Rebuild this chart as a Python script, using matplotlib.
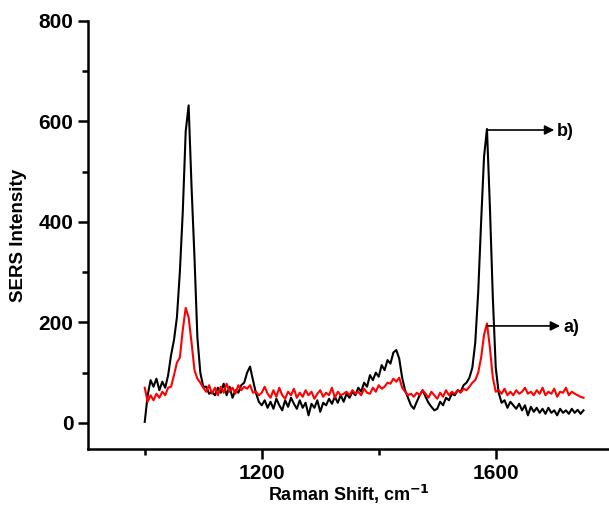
import numpy as np
import matplotlib.pyplot as plt
from matplotlib.ticker import MultipleLocator, FixedLocator

plt.rcParams['font.family'] = ['Liberation Sans', 'DejaVu Sans']

# Raman shift axis (cm-1), 5 cm-1 steps
shift = np.arange(1000, 1751, 5)

# b) black spectrum
black = [2, 55, 85, 72, 88, 65, 82, 70, 95, 135,
         165, 210, 300, 420, 580, 632, 470, 330, 170, 100,
         72, 72, 58, 62, 55, 70, 60, 78, 55, 72,
         50, 65, 60, 75, 80, 100, 112, 85, 60, 42,
         35, 45, 30, 42, 28, 48, 35, 25, 45, 32,
         50, 38, 28, 45, 30, 40, 15, 38, 30, 45,
         22, 40, 35, 48, 38, 52, 40, 55, 42, 58,
         50, 62, 55, 70, 62, 80, 72, 95, 85, 100,
         92, 115, 105, 125, 118, 140, 145, 128, 90, 65,
         50, 35, 28, 42, 55, 65, 52, 40, 32, 25,
         28, 42, 35, 50, 45, 58, 55, 65, 62, 75,
         80, 90, 110, 160, 260, 400, 530, 585, 430, 250,
         110, 60, 40, 45, 30, 42, 35, 28, 38, 25,
         35, 15, 32, 22, 30, 20, 28, 18, 30, 20,
         25, 15, 28, 20, 25, 18, 28, 20, 26, 18,
         25]

# a) red spectrum
red = [70, 42, 55, 45, 58, 50, 62, 55, 70, 72,
       95, 120, 130, 185, 229, 210, 160, 105, 88, 80,
       70, 62, 75, 58, 70, 55, 72, 60, 78, 62,
       70, 58, 75, 65, 72, 68, 75, 60, 62, 55,
       60, 72, 58, 50, 65, 52, 70, 55, 48, 62,
       55, 68, 50, 60, 52, 65, 55, 62, 48, 58,
       65, 52, 60, 55, 70, 50, 62, 55, 58, 62,
       55, 65, 58, 62, 55, 68, 60, 58, 70, 62,
       75, 68, 72, 80, 78, 88, 82, 90, 70, 62,
       55, 58, 52, 60, 55, 65, 58, 50, 62, 55,
       48, 60, 52, 65, 55, 62, 58, 65, 60, 68,
       65, 72, 80, 85, 100, 130, 175, 198, 150, 90,
       62, 65, 58, 68, 55, 62, 55, 65, 58, 62,
       70, 58, 62, 55, 65, 58, 70, 55, 62, 58,
       68, 52, 62, 60, 70, 55, 62, 58, 55, 52,
       50]

fig = plt.figure(figsize=(6.09, 5.08), dpi=100)
ax = fig.add_axes([88 / 609, 59 / 508, 521 / 609, 428 / 508])

ax.plot(shift, black, color='black', lw=1.5)
ax.plot(shift, red, color='red', lw=1.5)

ax.set_xlim(903, 903 + 521 / 0.585)
ax.set_ylim(-52, 800)

# labels with arrows
arrow = dict(arrowstyle='-|>', color='black', lw=1.2, shrinkA=0, shrinkB=0,
             mutation_scale=14)
ax.annotate('', xy=(1700, 583), xytext=(1585, 583), arrowprops=arrow)
ax.text(1705, 580, 'b)', fontsize=13, fontweight='bold', va='center')
ax.annotate('', xy=(1710, 193), xytext=(1585, 193), arrowprops=arrow)
ax.text(1715, 190, 'a)', fontsize=13, fontweight='bold', va='center')

for s in ['top', 'right']:
    ax.spines[s].set_visible(False)
for s in ['left', 'bottom']:
    ax.spines[s].set_linewidth(1.8)

ax.xaxis.set_major_locator(FixedLocator([1200, 1600]))
ax.xaxis.set_minor_locator(FixedLocator([1000, 1400, 1800]))
ax.yaxis.set_major_locator(MultipleLocator(200))
ax.yaxis.set_minor_locator(MultipleLocator(100))
ax.tick_params(which='major', length=7, width=1.8, labelsize=15)
ax.tick_params(which='minor', length=4, width=1.8)
for lab in ax.get_xticklabels() + ax.get_yticklabels():
    lab.set_fontweight('bold')

ax.set_xlabel('Raman Shift, cm$^{\\mathbf{-1}}$', fontsize=13, fontweight='bold', labelpad=0)
ax.set_ylabel('SERS Intensity', fontsize=13.5, fontweight='bold', labelpad=8)

fig.savefig('out.png', dpi=100)
